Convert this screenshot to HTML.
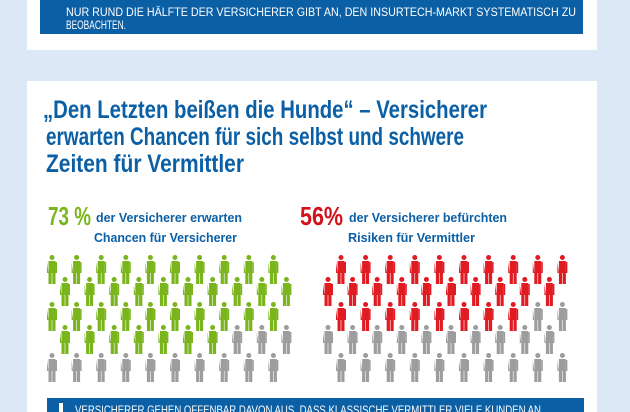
<!DOCTYPE html>
<html><head><meta charset="utf-8"><style>
html,body{margin:0;padding:0;background:#dde8f6;}
svg{display:block;font-family:"Liberation Sans",sans-serif;}
</style></head><body>
<svg width="630" height="412" viewBox="0 0 630 412">
<rect x="0" y="0" width="630" height="412" fill="#dde8f6"/>
<rect x="27" y="0" width="570" height="50" fill="#fff"/>
<rect x="40" y="0" width="543" height="34" fill="#0b5fa5"/>
<text x="66" y="16" font-size="11.5" fill="#fff" textLength="510" lengthAdjust="spacingAndGlyphs">NUR RUND DIE HÄLFTE DER VERSICHERER GIBT AN, DEN INSURTECH-MARKT SYSTEMATISCH ZU</text>
<text x="66" y="29" font-size="11.5" fill="#fff" textLength="60" lengthAdjust="spacingAndGlyphs">BEOBACHTEN.</text>

<rect x="27" y="81" width="570" height="331" fill="#fff"/>
<g font-weight="bold" fill="#0b5fa5" font-size="25">
<text x="43" y="118" textLength="444" lengthAdjust="spacingAndGlyphs">„Den Letzten beißen die Hunde“ – Versicherer</text>
<text x="46" y="145" textLength="418" lengthAdjust="spacingAndGlyphs">erwarten Chancen für sich selbst und schwere</text>
<text x="46" y="172" textLength="198" lengthAdjust="spacingAndGlyphs">Zeiten für Vermittler</text>
</g>
<g font-weight="bold">
<text x="48" y="225" font-size="26" fill="#7ab51d" textLength="43" lengthAdjust="spacingAndGlyphs">73 %</text>
<text x="96" y="222" font-size="13" fill="#0b5fa5" textLength="146" lengthAdjust="spacingAndGlyphs">der Versicherer erwarten</text>
<text x="94" y="242" font-size="13" fill="#0b5fa5" textLength="143" lengthAdjust="spacingAndGlyphs">Chancen für Versicherer</text>
</g>
<g font-weight="bold">
<text x="300" y="225" font-size="26" fill="#d2111b" textLength="43" lengthAdjust="spacingAndGlyphs">56%</text>
<text x="349" y="222" font-size="13" fill="#0b5fa5" textLength="158" lengthAdjust="spacingAndGlyphs">der Versicherer befürchten</text>
<text x="348" y="242" font-size="13" fill="#0b5fa5" textLength="127" lengthAdjust="spacingAndGlyphs">Risiken für Vermittler</text>
</g>
<g id="figs-left"></g>
<g id="figs-right"></g>

<rect x="47" y="398" width="537" height="14" fill="#0b5fa5"/>
<rect x="59" y="403" width="4" height="9" fill="#fff"/>
<text x="75" y="414" font-size="11.5" fill="#fff" textLength="466" lengthAdjust="spacingAndGlyphs">VERSICHERER GEHEN OFFENBAR DAVON AUS, DASS KLASSISCHE VERMITTLER VIELE KUNDEN AN</text>
</svg>
<script>
const totalFigures = 50;
const leftPercent = [73];
const rightPercent = [56];
const leftHighlighted = [37];
const rightHighlighted = [28];
const NS = "http://www.w3.org/2000/svg";
const rowTops = [255, 277, 302, 325, 353];
function person(g, cx, top, color){
  const p = document.createElementNS(NS, 'g');
  
  
  p.setAttribute('fill', color);
  p.innerHTML =
    '<circle cx="'+cx+'" cy="'+(top+2.5)+'" r="2.5"/>' +
    '<path d="M'+(cx-5)+' '+(top+7)+' h10 v11 h-1.5 v-11 M'+(cx-5)+' '+(top+7)+' v11 h1.5 z"/>' +
    '<rect x="'+(cx-3.5)+'" y="'+(top+6)+'" width="7" height="12"/>' +
    '<rect x="'+(cx-3.5)+'" y="'+(top+17)+'" width="3.2" height="12"/>' +
    '<rect x="'+(cx+0.3)+'" y="'+(top+17)+'" width="3.2" height="12"/>';
  g.appendChild(p);
}
function draw(id, highlighted, color, x0, oddShift){
  const g = document.getElementById(id);
  const n = Math.min(totalFigures, highlighted);
  for(let r=0;r<5;r++){
    for(let c=0;c<10;c++){
      const idx = r*10+c;
      const shift = (r%2===1) ? oddShift : 0;
      const cx = x0 + shift + c*24.6;
      person(g, cx, rowTops[r], idx < n ? color : '#9d9d9d');
    }
  }
}
draw('figs-left', leftHighlighted[0], '#7ab51d', 52, 13);
draw('figs-right', rightHighlighted[0], '#e01b22', 341, -13);
</script>
</body></html>
